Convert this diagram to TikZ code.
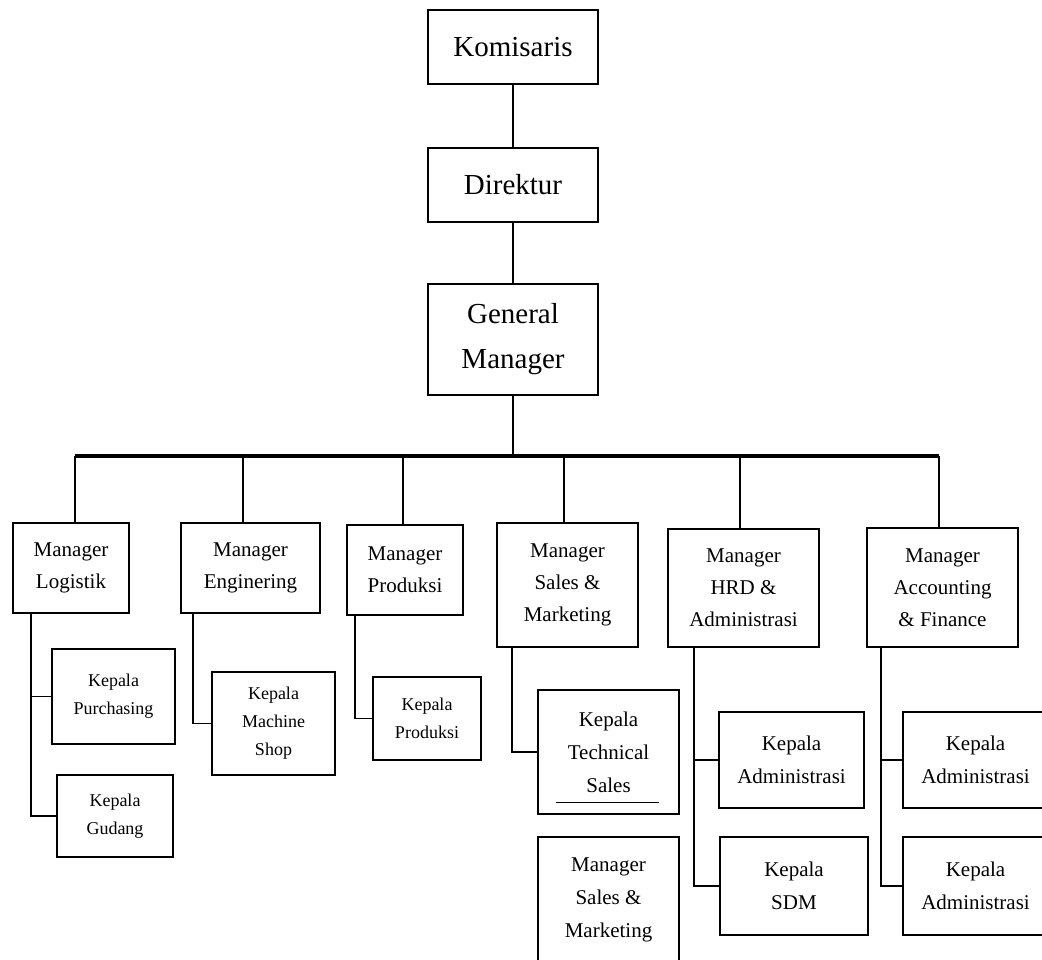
\documentclass[tikz,border=0pt]{standalone}
\usepackage{fontspec}
\setmainfont{Liberation Serif}
\usetikzlibrary{positioning}

\begin{document}
\begin{tikzpicture}[x=1pt, y=-1pt,
    box/.style = {draw, line width=1.8pt, align=center, inner sep=0pt},
    top/.style = {box, minimum width=170pt, font=\fontsize{29}{45}\selectfont},
    mgr/.style = {box, font=\fontsize{21}{32}\selectfont},
    kep/.style = {box, font=\fontsize{18}{28}\selectfont},
    kepr/.style = {box, font=\fontsize{21}{33}\selectfont},
    link/.style = {line width=1.8pt},
    bus/.style = {line width=3.8pt}]
  \useasboundingbox (0,0) rectangle (1042,959);

  % top
  \node[top, minimum height=74pt] (kom) at (513,47) {Komisaris};
  \node[top, minimum height=74pt] (dir) at (513,185) {Direktur};
  \node[top, minimum height=111pt] (gm) at (513,339.5) {General\\Manager};
  \coordinate (bus) at (513,456);

  % managers
  \node[mgr, minimum width=116pt, minimum height=90pt] (log) at (71,568) {Manager\\Logistik};
  \node[mgr, minimum width=139pt, minimum height=90pt] (eng) at (250.5,568) {Manager\\Enginering};
  \node[mgr, minimum width=116pt, minimum height=90pt] (prod) at (405,570) {Manager\\Produksi};
  \node[mgr, minimum width=141pt, minimum height=124pt] (sales) at (567.5,585) {Manager\\Sales \&\\Marketing};
  \node[mgr, minimum width=151pt, minimum height=118pt] (hrd) at (743.5,588) {Manager\\HRD \&\\Administrasi};
  \node[mgr, minimum width=151pt, minimum height=119pt] (acc) at (942.5,587.5) {Manager\\Accounting\\\& Finance};

  % kepala
  \node[kep, minimum width=123pt, minimum height=95pt] (pur) at (113.5,696.5) {Kepala\\Purchasing};
  \node[kep, minimum width=116pt, minimum height=82pt] (gud) at (115,816) {Kepala\\Gudang};
  \node[kep, minimum width=123pt, minimum height=103pt] (msh) at (273.5,723.5) {Kepala\\Machine\\Shop};
  \node[kep, minimum width=108pt, minimum height=83pt] (kpr) at (427,718.5) {Kepala\\Produksi};
  \node[kepr, minimum width=141pt, minimum height=124pt] (tech) at (608.5,752) {Kepala\\Technical\\Sales};
  \node[kepr, minimum width=141pt, minimum height=126pt] (msm) at (608.5,900) {Manager\\Sales \&\\Marketing};
  \node[kepr, minimum width=145pt, minimum height=96pt] (hka) at (791.5,760) {Kepala\\Administrasi};
  \node[kepr, minimum width=148pt, minimum height=98pt] (sdm) at (794,886) {Kepala\\SDM};
  \node[kepr, minimum width=145pt, minimum height=96pt] (aka1) at (975.5,760) {Kepala\\Administrasi};
  \node[kepr, minimum width=145pt, minimum height=98pt] (aka2) at (975.5,886) {Kepala\\Administrasi};

  % lines
  \draw[link] (kom) -- (dir) -- (gm) -- (bus);
  \draw[bus] ([xshift=4pt]log.north |- bus) -- ([xshift=-3.5pt]acc.north |- bus);
  \draw[link] ([xshift=4pt]log.north) -- ([xshift=4pt]log.north |- bus);
  \draw[link] ([xshift=-7.5pt]eng.north) -- ([xshift=-7.5pt]eng.north |- bus);
  \draw[link] ([xshift=-2pt]prod.north) -- ([xshift=-2pt]prod.north |- bus);
  \foreach \m in {sales,hrd,acc}
    \draw[link] ([xshift=-3.5pt]\m.north) -- ([xshift=-3.5pt]\m.north |- bus);

  \draw[link] ([xshift=19pt]log.south west) |- (pur.west);
  \draw[link] ([xshift=19pt]log.south west) |- (gud.west);
  \draw[link] ([xshift=13pt]eng.south west) |- (msh.west);
  \draw[link] ([xshift=9pt]prod.south west) |- (kpr.west);
  \draw[link] ([xshift=16pt]sales.south west) |- (tech.west);
  \draw[link] ([xshift=27pt]hrd.south west) |- (hka.west);
  \draw[link] ([xshift=27pt]hrd.south west) |- (sdm.west);
  \draw[link] ([xshift=15pt]acc.south west) |- (aka1.west);
  \draw[link] ([xshift=15pt]acc.south west) |- (aka2.west);

  \draw[line width=0.8pt] ([xshift=19pt,yshift=13pt]tech.south west) -- ([xshift=-21pt,yshift=13pt]tech.south east);
\end{tikzpicture}
\end{document}
